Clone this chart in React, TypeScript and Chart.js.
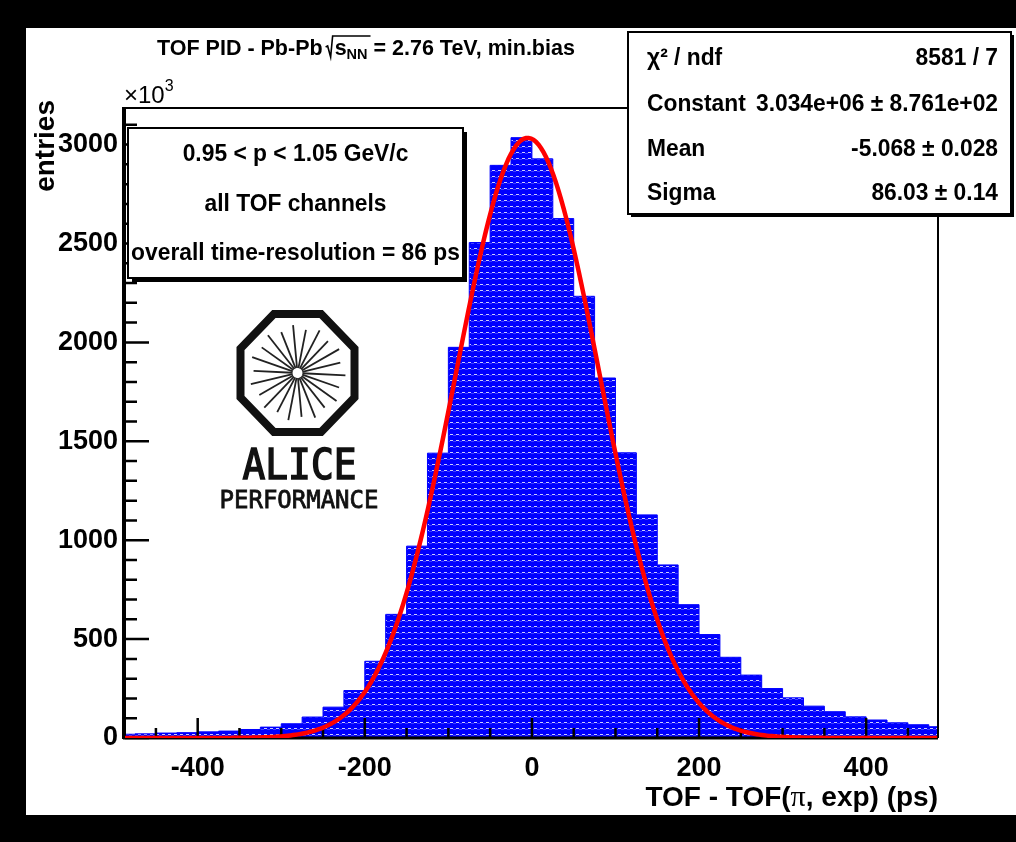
import React, { useEffect, useRef } from "react";
import { Chart, registerables } from "chart.js";

Chart.register(...registerables);

// ---- histogram: TOF - TOF(pi, exp), 25 ps bins, counts in units of 10^3 entries
const BIN_LOW_EDGES = [
  -500, -475, -450, -425, -400, -375, -350, -325, -300, -275,
  -250, -225, -200, -175, -150, -125, -100, -75, -50, -25,
  0, 25, 50, 75, 100, 125, 150, 175, 200, 225,
  250, 275, 300, 325, 350, 375, 400, 425, 450, 475,
];
const BIN_WIDTH = 25;
const COUNTS_K = [
  19, 21, 25, 27, 31, 35, 43, 55, 72, 106,
  156, 240, 388, 625, 970, 1440, 1975, 2505, 2895, 3035,
  2928, 2626, 2233, 1820, 1442, 1128, 875, 674, 523, 408,
  318, 250, 203, 161, 133, 107, 91, 77, 67, 57,
];

// ---- gaussian fit (values from the fit statistics box)
const FIT_CONSTANT = 3.034e6;
const FIT_MEAN = -5.068;
const FIT_SIGMA = 86.03;
const FIT_STEP = 3;

// ---- axes
const X_MIN = -487;
const X_MAX = 486;
const Y_MAX = 3185;
const X_TICKS = [-400, -200, 0, 200, 400];
const X_MINOR_STEP = 50;
const Y_TICKS = [0, 500, 1000, 1500, 2000, 2500, 3000];
const Y_MINOR_STEP = 100;

// ---- texts
const TITLE_LEFT = "TOF PID - Pb-Pb";
const TITLE_SQRT_BASE = "s";
const TITLE_SQRT_SUB = "NN";
const TITLE_RIGHT = " = 2.76 TeV, min.bias";
const X_TITLE_PARTS = ["TOF - TOF(", "\u03c0", ", exp) (ps)"];
const Y_TITLE = "entries";
const Y_EXPONENT = ["\u00d710", "3"];
const INFO_LINES = [
  "0.95 < p < 1.05 GeV/c",
  "all TOF channels",
  "overall time-resolution = 86 ps",
];
const STATS_LABELS = ["\u03c7\u00b2 / ndf", "Constant", "Mean", "Sigma"];
const STATS_VALUES = [
  "8581 / 7",
  "3.034e+06 \u00b1 8.761e+02",
  "-5.068 \u00b1 0.028",
  "86.03 \u00b1 0.14",
];
const LOGO_WORD = "ALICE";
const LOGO_SUBWORD = "PERFORMANCE";

// ---- page geometry
const W = 1016;
const H = 842;
const FRAME = { left: 125, right: 938, top: 108, bottom: 738 };
const FAMILY = "'Liberation Sans', Arial, Helvetica, sans-serif";
const MONO = "'DejaVu Sans Mono', monospace";
const font = (size: number, weight = "bold", family = FAMILY) =>
  `${weight} ${size}px ${family}`;

type Run = { text: string; font: string; dy?: number };

function runsWidth(ctx: CanvasRenderingContext2D, runs: Run[]) {
  let w = 0;
  for (const r of runs) {
    ctx.font = r.font;
    w += ctx.measureText(r.text).width;
  }
  return w;
}

function drawRuns(
  ctx: CanvasRenderingContext2D,
  runs: Run[],
  x: number,
  y: number,
  align: "left" | "center" | "right",
  sx = 1,
  outline = 0
) {
  const w = runsWidth(ctx, runs) * sx;
  const start = align === "left" ? x : align === "center" ? x - w / 2 : x - w;
  ctx.save();
  ctx.translate(start, y);
  ctx.scale(sx, 1);
  ctx.textAlign = "left";
  ctx.textBaseline = "alphabetic";
  let cx = 0;
  for (const r of runs) {
    ctx.font = r.font;
    ctx.fillText(r.text, cx, r.dy || 0);
    if (outline > 0) {
      ctx.lineWidth = outline;
      ctx.strokeStyle = ctx.fillStyle as string;
      ctx.strokeText(r.text, cx, r.dy || 0);
    }
    cx += ctx.measureText(r.text).width;
  }
  ctx.restore();
}

// blue fill with rows of small white dashes
function makeHatch(): CanvasPattern | string {
  const c = document.createElement("canvas");
  c.width = 6;
  c.height = 6;
  const g = c.getContext("2d");
  if (!g) return "#0000ff";
  g.fillStyle = "#0000ff";
  g.fillRect(0, 0, 6, 6);
  g.fillStyle = "rgba(255,255,255,0.8)";
  g.fillRect(0, 2, 3, 1);
  g.fillStyle = "rgba(255,255,255,0.25)";
  g.fillRect(3, 3, 3, 1);
  return g.createPattern(c, "repeat") || "#0000ff";
}

const pagePlugin = {
  id: "page",
  beforeDraw(chart: Chart) {
    const ctx = chart.ctx;
    ctx.save();
    ctx.fillStyle = "#000";
    ctx.fillRect(0, 0, W, H);
    ctx.fillStyle = "#fff";
    ctx.fillRect(26, 28, W - 26, 815 - 28);
    ctx.restore();
  },
};

// frame and inward ticks, drawn between the histogram and the fit curve
const framePlugin = {
  id: "rootFrame",
  beforeDatasetDraw(chart: Chart, args: { index: number }) {
    if (args.index !== 0) return;
    const ctx = chart.ctx;
    const { left, right, top, bottom } = chart.chartArea;
    const xs = chart.scales.x;
    const ys = chart.scales.y;
    ctx.save();
    ctx.strokeStyle = "#000";
    ctx.lineWidth = 2.5;
    ctx.beginPath();
    for (let v = Math.ceil(X_MIN / X_MINOR_STEP) * X_MINOR_STEP; v <= X_MAX; v += X_MINOR_STEP) {
      const px = xs.getPixelForValue(v);
      const len = X_TICKS.includes(v) ? 20 : 10;
      ctx.moveTo(px, bottom);
      ctx.lineTo(px, bottom - len);
    }
    for (let v = 0; v <= Y_MAX; v += Y_MINOR_STEP) {
      const py = ys.getPixelForValue(v);
      const len = Y_TICKS.includes(v) ? 24 : 12;
      ctx.moveTo(left, py);
      ctx.lineTo(left + len, py);
    }
    ctx.stroke();
    ctx.lineWidth = 2;
    ctx.beginPath();
    ctx.moveTo(left, top);
    ctx.lineTo(right, top);
    ctx.lineTo(right, bottom);
    ctx.stroke();
    ctx.lineWidth = 4;
    ctx.beginPath();
    ctx.moveTo(left - 1, top - 1);
    ctx.lineTo(left - 1, bottom + 1);
    ctx.stroke();
    ctx.lineWidth = 3;
    ctx.beginPath();
    ctx.moveTo(left - 2, bottom);
    ctx.lineTo(right, bottom);
    ctx.stroke();
    ctx.restore();
  },
};

function drawLogo(ctx: CanvasRenderingContext2D) {
  const cx = 297.5;
  const cy = 373;
  ctx.save();
  ctx.strokeStyle = "#111";
  ctx.lineWidth = 8;
  ctx.lineJoin = "miter";
  ctx.beginPath();
  for (let k = 0; k < 8; k++) {
    const a = (Math.PI / 8) * (2 * k + 1);
    const px = cx + (57 / Math.cos(Math.PI / 8)) * Math.cos(a);
    const py = cy + (59 / Math.cos(Math.PI / 8)) * Math.sin(a);
    if (k === 0) ctx.moveTo(px, py);
    else ctx.lineTo(px, py);
  }
  ctx.closePath();
  ctx.stroke();
  // starburst
  ctx.lineWidth = 1.8;
  ctx.strokeStyle = "#222";
  const spokes = 22;
  for (let k = 0; k < spokes; k++) {
    const a = (k / spokes) * Math.PI * 2 + 0.05;
    const r1 = 5;
    const r2 = k % 2 === 0 ? 48 : 44;
    ctx.beginPath();
    ctx.moveTo(cx + r1 * Math.cos(a), cy + r1 * Math.sin(a));
    ctx.lineTo(cx + r2 * Math.cos(a), cy + r2 * Math.sin(a));
    ctx.stroke();
  }
  ctx.fillStyle = "#111";
  drawRuns(ctx, [{ text: LOGO_WORD, font: font(42, "normal", MONO) }], cx + 2, 479, "center", 0.9, 1.6);
  drawRuns(ctx, [{ text: LOGO_SUBWORD, font: font(24, "normal", MONO) }], cx + 1.5, 508, "center", 1, 0.8);
  ctx.restore();
}

function drawBox(ctx: CanvasRenderingContext2D, x: number, y: number, w: number, h: number, shadow: number) {
  ctx.fillStyle = "#000";
  ctx.fillRect(x + shadow, y + shadow, w, h);
  ctx.fillStyle = "#fff";
  ctx.fillRect(x, y, w, h);
  ctx.strokeStyle = "#000";
  ctx.lineWidth = 2;
  ctx.strokeRect(x, y, w, h);
}

const decorPlugin = {
  id: "decor",
  afterDraw(chart: Chart) {
    const ctx = chart.ctx;
    ctx.save();

    // info box
    drawBox(ctx, 128, 128, 335, 150, 4);
    ctx.fillStyle = "#000";
    const infoBase = [161, 211, 260];
    INFO_LINES.forEach((t, i) =>
      drawRuns(ctx, [{ text: t, font: font(24) }], 295.5, infoBase[i], "center", 0.95)
    );

    // fit statistics box
    drawBox(ctx, 628, 32, 383, 182, 3);
    ctx.fillStyle = "#000";
    const statBase = [65, 111, 156, 200];
    STATS_LABELS.forEach((t, i) => {
      drawRuns(ctx, [{ text: t, font: font(24) }], 647, statBase[i], "left", 0.95);
      drawRuns(ctx, [{ text: STATS_VALUES[i], font: font(24) }], 998, statBase[i], "right", 0.95);
    });

    drawLogo(ctx);

    // title with square root
    ctx.fillStyle = "#000";
    const tf = font(21.5);
    const sf = font(14.5);
    ctx.font = tf;
    const wl = ctx.measureText(TITLE_LEFT).width;
    const ws = ctx.measureText(TITLE_SQRT_BASE).width;
    ctx.font = sf;
    const wsub = ctx.measureText(TITLE_SQRT_SUB).width;
    const tx = 157;
    const ty = 55;
    drawRuns(ctx, [{ text: TITLE_LEFT, font: tf }], tx, ty, "left");
    const rx = tx + wl + 3;
    ctx.strokeStyle = "#000";
    ctx.lineWidth = 1.6;
    ctx.beginPath();
    ctx.moveTo(rx, ty - 8);
    ctx.lineTo(rx + 2, ty - 9);
    ctx.lineTo(rx + 5, ty + 2);
    ctx.lineTo(rx + 7, ty - 19);
    ctx.lineTo(rx + 10 + ws + wsub + 2, ty - 19);
    ctx.stroke();
    drawRuns(
      ctx,
      [
        { text: TITLE_SQRT_BASE, font: tf },
        { text: TITLE_SQRT_SUB, font: sf, dy: 4 },
        { text: TITLE_RIGHT, font: tf },
      ],
      rx + 9,
      ty,
      "left"
    );

    // y exponent
    drawRuns(
      ctx,
      [
        { text: Y_EXPONENT[0], font: font(24, "normal") },
        { text: Y_EXPONENT[1], font: font(16, "normal"), dy: -12 },
      ],
      124,
      103,
      "left"
    );

    // y title
    ctx.save();
    ctx.translate(54, 100);
    ctx.rotate(-Math.PI / 2);
    drawRuns(ctx, [{ text: Y_TITLE, font: font(28) }], 0, 0, "right");
    ctx.restore();

    // x title
    drawRuns(
      ctx,
      [
        { text: X_TITLE_PARTS[0], font: font(28) },
        { text: X_TITLE_PARTS[1], font: font(30, "normal", "'Liberation Serif', serif") },
        { text: X_TITLE_PARTS[2], font: font(28) },
      ],
      938,
      806,
      "right"
    );

    ctx.restore();
  },
};

export default function App() {
  const ref = useRef<HTMLCanvasElement | null>(null);

  useEffect(() => {
    if (!ref.current) return;
    const histPoints = BIN_LOW_EDGES.map((e, i) => ({ x: e, y: COUNTS_K[i] }));
    histPoints.push({
      x: BIN_LOW_EDGES[BIN_LOW_EDGES.length - 1] + BIN_WIDTH,
      y: COUNTS_K[COUNTS_K.length - 1],
    });
    const fitPoints: { x: number; y: number }[] = [];
    for (let x = X_MIN; x <= X_MAX; x += FIT_STEP) {
      const z = (x - FIT_MEAN) / FIT_SIGMA;
      fitPoints.push({ x, y: (FIT_CONSTANT / 1000) * Math.exp(-0.5 * z * z) });
    }

    const tickFont = { family: FAMILY, weight: "bold" as const, size: 27 };
    const chart = new Chart(ref.current, {
      type: "line",
      data: {
        datasets: [
          {
            label: "gaus fit",
            data: fitPoints,
            borderColor: "#ff0000",
            borderWidth: 4.5,
            pointRadius: 0,
            tension: 0,
            fill: false,
          },
          {
            label: "TOF - TOF(pi, exp)",
            data: histPoints,
            stepped: "before",
            borderColor: "#0000ff",
            borderWidth: 1,
            backgroundColor: makeHatch(),
            pointRadius: 0,
            fill: "origin",
          },
        ],
      },
      options: {
        animation: false,
        responsive: false,
        layout: { padding: { top: FRAME.top, right: W - FRAME.right, left: 0, bottom: 0 } },
        plugins: { legend: { display: false }, tooltip: { enabled: false }, title: { display: false } },
        scales: {
          x: {
            type: "linear",
            min: X_MIN,
            max: X_MAX,
            grid: { display: false, drawTicks: false },
            border: { display: false },
            ticks: {
              font: tickFont,
              color: "#000",
              padding: 14,
              maxRotation: 0,
              autoSkip: false,
              callback: (v: number | string) => String(v),
            },
            afterBuildTicks: (s: any) => {
              s.ticks = X_TICKS.map((v) => ({ value: v }));
            },
            afterFit: (s: any) => {
              s.height = H - FRAME.bottom;
            },
          },
          y: {
            type: "linear",
            min: 0,
            max: Y_MAX,
            grid: { display: false, drawTicks: false },
            border: { display: false },
            ticks: {
              font: tickFont,
              color: "#000",
              padding: 7,
              autoSkip: false,
              callback: (v: number | string) => String(v),
            },
            afterBuildTicks: (s: any) => {
              s.ticks = Y_TICKS.map((v) => ({ value: v }));
            },
            afterFit: (s: any) => {
              s.width = FRAME.left;
            },
          },
        },
      },
      plugins: [pagePlugin, framePlugin, decorPlugin],
    });
    return () => chart.destroy();
  }, []);

  return (
    <div style={{ position: "fixed", left: 0, top: 0, width: W, height: H }}>
      <canvas ref={ref} width={W} height={H} style={{ display: "block" }} />
    </div>
  );
}
